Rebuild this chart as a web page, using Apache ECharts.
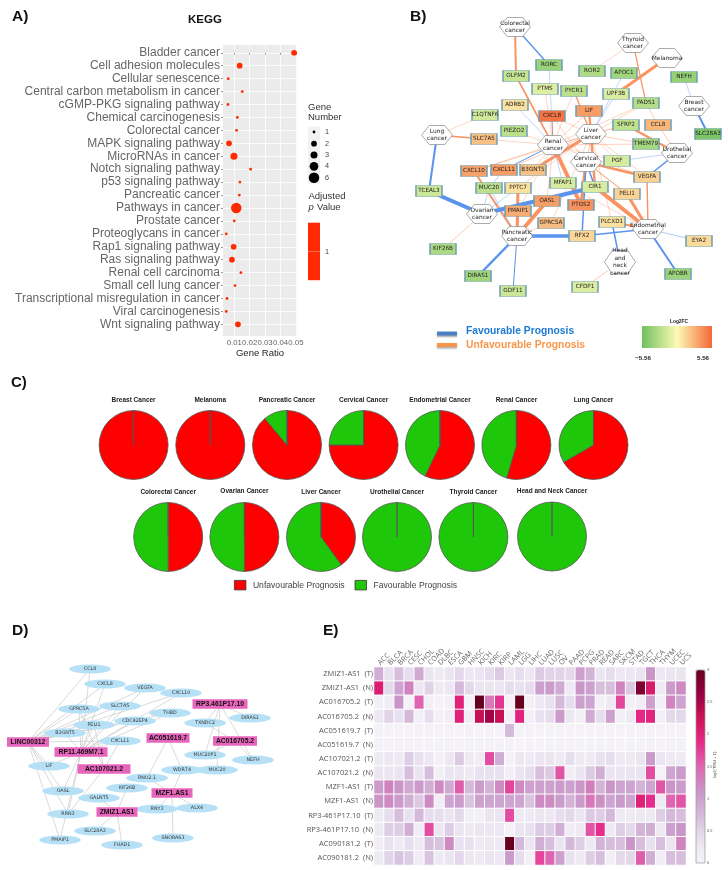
<!DOCTYPE html>
<html><head><meta charset="utf-8">
<style>html,body{margin:0;padding:0;background:#fff}#c{width:728px;height:870px}</style>
<script src="https://cdn.jsdelivr.net/npm/echarts@6/dist/echarts.min.js"></script>
</head><body><div id="c"></div>
<script>
// ---------- Panel A data ----------
const keggTerms=["Bladder cancer","Cell adhesion molecules","Cellular senescence","Central carbon metabolism in cancer","cGMP-PKG signaling pathway","Chemical carcinogenesis","Colorectal cancer","MAPK signaling pathway","MicroRNAs in cancer","Notch signaling pathway","p53 signaling pathway","Pancreatic cancer","Pathways in cancer","Prostate cancer","Proteoglycans in cancer","Rap1 signaling pathway","Ras signaling pathway","Renal cell carcinoma","Small cell lung cancer","Transcriptional misregulation in cancer","Viral carcinogenesis","Wnt signaling pathway"];
const keggRatio=[0.0488,0.0135,0.0061,0.0152,0.0059,0.012,0.0115,0.0066,0.0098,0.0206,0.0137,0.0133,0.0113,0.01,0.0048,0.0096,0.0085,0.0143,0.0105,0.0053,0.0048,0.0124];
const keggGenes=[2,2,1,1,1,1,1,2,3,1,1,1,6,1,1,2,2,1,1,1,1,2];
const ratioTicks=[0.01,0.02,0.03,0.04,0.05];
const geneLegend=[1,2,3,4,6];
// ---------- Panel B data ----------
const cancerNodes=["Colorectal cancer","Thyroid cancer","Melanoma","Breast cancer","Lung cancer","Renal cancer","Liver cancer","Cervical cancer","Urothelial cancer","Ovarian cancer","Pancreatic cancer","Endometrial cancer","Head and neck cancer"];
const geneNames=["RORC","OLFM2","ROR2","APOC1","NEFH","PTMS","PYCR1","UPF3B","FADS1","ADRB2","CXCL8","LIF","C1QTNF6","PIEZO2","SFRP2","CCL8","SLC7A5","TMEM79","SLC28A3","PGF","CXCL10","CXCL11","B3GNT5","VEGFA","MUC20","PPTC7","MFAP1","CIR1","TCEAL3","PELI1","OASL","PTGS2","PMAIP1","GPRC5A","PLCXD1","RFX2","KIF26B","DIRAS1","GDF11","CFDP1","EYA2","APOBR"];
const geneLog2FC=[-3.9,-2.2,-3,-3.6,-4,-1.2,-2.6,-1.4,-2.8,1,5.2,3.6,-1.8,-2.6,-2.4,2.6,2.2,-3.4,-5,-1.5,3.4,3.6,2.2,1.6,-2.6,1,-1.5,-1.4,-1.9,1.5,3.5,4,3,2.4,1,1.4,-3.2,-3.6,-2,-1.3,1.2,-3.8];
const fav=[["Colorectal cancer","RORC",1.4],["RORC","Renal cancer",.7],["APOC1","Liver cancer",.7],["UPF3B","Liver cancer",.7],["Breast cancer","NEFH",.7],["Breast cancer","SLC28A3",2],["Lung cancer","TCEAL3",2],["TCEAL3","Ovarian cancer",4],["Ovarian cancer","CIR1",4],["Ovarian cancer","MUC20",.7],["Pancreatic cancer","RFX2",3.5],["Pancreatic cancer","DIRAS1",2.5],["Pancreatic cancer","GDF11",1],["RFX2","Endometrial cancer",1.5],["RFX2","Cervical cancer",1.5],["Endometrial cancer","EYA2",.9],["Endometrial cancer","APOBR",2],["Head and neck cancer","PLCXD1",1.5],["Urothelial cancer","VEGFA",1.6],["Urothelial cancer","PGF",.7],["Renal cancer","ADRB2",.7],["Renal cancer","CXCL11",1],["Renal cancer","MFAP1",.7],["CXCL11","MUC20",.8],["PPTC7","Ovarian cancer",.7],["MUC20","Pancreatic cancer",.7]];
const unfav=[["Colorectal cancer","OLFM2",2],["OLFM2","Renal cancer",1.6],["Thyroid cancer","ROR2",.7],["Thyroid cancer","FADS1",1.2],["FADS1","CCL8",.9],["CCL8","Urothelial cancer",.9],["Melanoma","UPF3B",3],["Lung cancer","C1QTNF6",.7],["Lung cancer","SLC7A5",1.4],["Ovarian cancer","KIF26B",.9],["Pancreatic cancer","PMAIP1",2],["Pancreatic cancer","OASL",4],["Pancreatic cancer","CXCL10",2],["Pancreatic cancer","PPTC7",3],["Pancreatic cancer","GPRC5A",.8],["Endometrial cancer","PELI1",3],["Endometrial cancer","CIR1",4],["Endometrial cancer","VEGFA",1.4],["Endometrial cancer","PLCXD1",2],["Endometrial cancer","MFAP1",.7],["Head and neck cancer","CFDP1",.9],["Cervical cancer","PTGS2",3],["Cervical cancer","VEGFA",2.6],["Cervical cancer","PELI1",1],["Urothelial cancer","SFRP2",2],["Renal cancer","PIEZO2",.7],["Renal cancer","SLC7A5",.7],["Renal cancer","CXCL8",1],["Renal cancer","LIF",.8],["Renal cancer","PYCR1",.7],["Renal cancer","PTMS",.7],["Renal cancer","CXCL10",.8],["Renal cancer","B3GNT5",.7],["Renal cancer","PTGS2",4],["Renal cancer","OASL",.8],["Renal cancer","PMAIP1",.7],["Renal cancer","TMEM79",.8],["Renal cancer","SFRP2",.7],["Renal cancer","PGF",.7],["Renal cancer","FADS1",.7],["Liver cancer","LIF",2.4],["Liver cancer","CXCL8",.7],["Liver cancer","PYCR1",1.3],["Liver cancer","SFRP2",.7],["Liver cancer","TMEM79",.8],["Liver cancer","FADS1",.7],["Liver cancer","CIR1",2.5],["Liver cancer","PTGS2",.9],["Liver cancer","PGF",.7],["Liver cancer","B3GNT5",3],["Liver cancer","CXCL10",.7],["Liver cancer","PLCXD1",.7],["Liver cancer","GPRC5A",.7],["Liver cancer","CXCL11",.8],["Liver cancer","PPTC7",.7],["Liver cancer","VEGFA",.7],["Cervical cancer","CXCL8",.7],["Renal cancer","VEGFA",.7]];
// ---------- Panel C data ----------
const pieNames=["Breast Cancer","Melanoma","Pancreatic Cancer","Cervical Cancer","Endometrial Cancer","Renal Cancer","Lung Cancer","Colorectal Cancer","Ovarian Cancer","Liver Cancer","Urothelial Cancer","Thyroid Cancer","Head and Neck Cancer"];
const pieUnfavourable=[1,1,8,3,4,6,2,1,1,2,0,0,0];
const pieFavourable=[0,0,1,1,3,5,1,1,1,3,1,1,1];
// ---------- Panel D data ----------
const lncNodes=["LINC00312","RP11.469M7.1","AC107021.2","ZMIZ1.AS1","MZF1.AS1","AC051619.7","AC016705.2","RP3.461P17.10"];
const mrnaNodes=["CCL8","CXCL8","VEGFA","CXCL10","GPRC5A","SLC7A5","THBD","CDC42EP4","TXNDC2","DIRAS1","PELI1","B3GNT5","CXCL11","MUC20P1","NEFH","LIF","WDR74","MUC20","RNU2.1","KIF26B","OASL","GALNT5","RNY3","ALX4","RRN3","SLC28A3","SNORA63","PMAIP1","FHAD1"];
const lncTargets={
 "LINC00312":["CCL8","CXCL8","VEGFA","CXCL10","GPRC5A","SLC7A5","THBD","CDC42EP4","PELI1","B3GNT5","CXCL11","LIF","OASL","RRN3","PMAIP1"],
 "RP11.469M7.1":["CCL8","CXCL8","VEGFA","CXCL10","GPRC5A","SLC7A5","THBD","CDC42EP4","PELI1","B3GNT5","CXCL11","LIF","OASL","RRN3","PMAIP1"],
 "AC107021.2":["GPRC5A","PELI1","CXCL11","RRN3"],
 "ZMIZ1.AS1":["KIF26B","GALNT5","SLC28A3","FHAD1"],
 "MZF1.AS1":["WDR74","RNU2.1","RNY3","ALX4","SNORA63"],
 "AC051619.7":["WDR74","RNU2.1"],
 "AC016705.2":["TXNDC2","MUC20P1","NEFH"],
 "RP3.461P17.10":["TXNDC2","DIRAS1","MUC20P1","MUC20","NEFH"]};
// ---------- Panel E data ----------
const tcgaCodes=["ACC","BLCA","BRCA","CESC","CHOL","COAD","DLBC","ESCA","GBM","HNSC","KICH","KIRC","KIRP","LAML","LGG","LIHC","LUAD","LUSC","OV","PAAD","PCPG","PRAD","READ","SARC","SKCM","STAD","TGCT","THCA","THYM","UCEC","UCS"];
const heatLabels=["ZMIZ1-AS1  (T)","ZMIZ1-AS1  (N)","AC016705.2  (T)","AC016705.2  (N)","AC051619.7  (T)","AC051619.7  (N)","AC107021.2  (T)","AC107021.2  (N)","MZF1-AS1  (T)","MZF1-AS1  (N)","RP3-461P17.10  (T)","RP3-461P17.10  (N)","AC090181.2  (T)","AC090181.2  (N)"];
const zmiz1T=[.85,.35,.7,.4,.9,.3,.2,.3,.45,.25,.3,.4,.6,.25,.4,.25,.6,.5,.5,.45,1,.8,.3,.4,.25,.25,.3,1.1,.25,.3,.3];
const zmiz1N=[2.05,.45,.95,1.25,.25,.5,.2,.25,.75,.45,.3,.3,.3,.4,.35,.4,1,1.05,.9,.2,1.1,1,.7,.7,1.25,.6,2.8,2.1,.2,1.05,1.2];
const ac016T=[.1,.15,1.1,.05,1.5,.1,.05,.1,2,.05,3,1.35,1.8,.05,3,.1,.25,.35,.75,.4,1,.95,.1,.2,1.7,.1,.15,1,.1,1.25,.95];
const ac016N=[.25,.5,.35,.75,.1,.4,.1,.15,2,.15,2.3,2.55,2.3,.1,1.95,.1,.35,.4,1.05,.25,.1,.9,.4,1,.1,.2,1.9,1.95,.1,.45,.45];
const ac051T=[.06,.06,.06,.06,.06,.06,.06,.06,.06,.06,.06,.06,.06,.75,.06,.06,.06,.06,.06,.06,.06,.06,.06,.06,.06,.06,.06,.06,.06,.06,.06];
const ac051N=[.05,.05,.05,.05,.05,.05,.05,.05,.05,.05,.05,.05,.05,.05,.03,.05,.05,.05,.05,.05,.05,.05,.05,.05,.05,.05,.05,.05,.05,.05,.05];
const ac107T=[.2,.25,.2,.55,.35,.25,.1,.25,.6,.2,.15,1.65,.85,.05,.25,.2,.3,.3,.2,.4,.2,.2,.35,.4,.2,.2,.3,1.05,.3,.2,.2];
const ac107N=[.3,.3,.3,.7,.3,.7,.1,.3,.3,.2,.35,.35,.35,.1,.3,.4,.7,.6,1.6,.15,.3,.6,.85,.3,.3,.3,.3,1.65,.05,.95,1.05];
const mzf1T=[1.05,1.25,1.1,.9,1.05,.85,1.2,.9,1.55,.75,1.05,.8,1.2,1.7,1.2,1,1,1,1.05,1,1.1,1.3,.8,1.1,.95,.95,.8,.95,1.6,1.1,1.05];
const mzf1N=[1.1,1.2,1.05,.85,.6,1.2,.15,.95,1.05,.65,1,.95,.95,.95,.95,.65,1.2,1.2,1.05,.8,1.05,1.35,1.15,.95,1.05,.95,2,1.85,.2,1.5,1.6];
const rp3T=[.2,.4,.7,.35,.75,.4,.4,.3,.45,.1,.1,.3,.3,1.65,.2,.2,.3,.25,.4,.45,.3,.6,.55,.75,.2,.2,.2,.2,.55,.75,.7];
const rp3N=[.2,.55,.55,.85,.15,1.65,.25,.55,.3,.2,.3,.25,.25,.05,.3,.35,.6,.55,.85,.15,.2,1.6,1.85,.2,.55,.45,.8,.85,.2,1,1.1];
const ac090T=[.15,.35,.2,.4,.2,.7,.65,1.2,.35,.35,.2,.25,.2,3,.75,.3,.85,.7,.3,.75,.55,.2,.8,.7,.7,1.1,.7,.35,.7,.3,1.25];
const ac090N=[.2,.5,.65,.55,.15,.65,.2,.3,.45,.25,.2,.3,.25,1.05,.4,.1,1.7,1.5,1,.35,.2,.55,.7,.1,.45,.45,1.55,.85,.15,.7,.7];
const heatRows=[zmiz1T,zmiz1N,ac016T,ac016N,ac051T,ac051N,ac107T,ac107N,mzf1T,mzf1N,rp3T,rp3N,ac090T,ac090N];
const colorbarTicks=[0,0.5,1,1.5,2,2.5,3];

// ---------- Layout (page pixels, read through the overlay axes) ----------
const layoutB={"Colorectal cancer":[515,27],"Thyroid cancer":[633,43],"Melanoma":[667,58],"Breast cancer":[694,106],"Lung cancer":[437,135],"Renal cancer":[553,145],"Liver cancer":[591,134],"Cervical cancer":[586,162],"Urothelial cancer":[677,153],"Ovarian cancer":[482,214],"Pancreatic cancer":[517,236],"Endometrial cancer":[648,229],"Head and neck cancer":[620,262],
RORC:[549,65],OLFM2:[516,76],ROR2:[592,71],APOC1:[624,73],NEFH:[684,77],PTMS:[545,89],PYCR1:[574,91],UPF3B:[616,94],FADS1:[646,103],ADRB2:[515,105],CXCL8:[552,116],LIF:[589,111],C1QTNF6:[485,115],PIEZO2:[514,131],SFRP2:[626,125],CCL8:[658,125],SLC7A5:[484,139],TMEM79:[646,144],SLC28A3:[708,134],PGF:[617,161],CXCL10:[474,171],CXCL11:[504,170],B3GNT5:[533,170],VEGFA:[647,177],MUC20:[489,188],PPTC7:[518,188],MFAP1:[563,183],CIR1:[595,187],TCEAL3:[429,191],PELI1:[627,194],OASL:[547,201],PTGS2:[581,205],PMAIP1:[518,211],GPRC5A:[551,223],PLCXD1:[612,222],RFX2:[582,236],KIF26B:[443,249],DIRAS1:[478,276],GDF11:[513,291],CFDP1:[585,287],EYA2:[699,241],APOBR:[678,274]};
const layoutD={CCL8:[90,669],CXCL8:[105,684],VEGFA:[145,688],CXCL10:[181,693],GPRC5A:[79,709],SLC7A5:[120,706],THBD:[170,713],CDC42EP4:[135,721],TXNDC2:[205,723],DIRAS1:[250,718],PELI1:[94,725],B3GNT5:[65,733],CXCL11:[120,741],MUC20P1:[205,755],NEFH:[253,760],LIF:[49,766],WDR74:[182,770],MUC20:[217,770],"RNU2.1":[147,778],KIF26B:[127,788],OASL:[63,791],GALNT5:[99,798],RNY3:[157,809],ALX4:[197,808],RRN3:[68,814],SLC28A3:[95,831],SNORA63:[173,838],PMAIP1:[60,840],FHAD1:[122,845],
LINC00312:[28,742],"RP11.469M7.1":[81,752],"AC107021.2":[104,769],"ZMIZ1.AS1":[117,812],"MZF1.AS1":[172,793],"AC051619.7":[168,738],"AC016705.2":[235,741],"RP3.461P17.10":[220,704]};
const lncWidths={LINC00312:42,"RP11.469M7.1":53,"AC107021.2":53,"ZMIZ1.AS1":41,"MZF1.AS1":41,"AC051619.7":43,"AC016705.2":44,"RP3.461P17.10":55};
const pieCentres=[[133.6,445],[210.3,445],[287,445],[363.6,445],[440,445],[516.4,445],[593.5,445],[168.2,537],[244.4,537],[321,537],[397,537],[473.4,537],[552,536.5]];
const pieTitleY=[400.5,400.5,400.5,400.5,400.5,400.5,400.5,492.5,491.5,492.5,492.5,492.5,491.5];
const legendDotPos=[132,143.7,155,166.3,177.7];
const dotSize={1:2.8,2:5.7,3:7,4:8.7,6:10.5};

const ARIAL='"Liberation Sans",Arial,sans-serif', DJ='"DejaVu Sans",sans-serif', OS='"Open Sans",sans-serif';
const HEX='path://M25,0 L75,0 L100,50 L75,100 L25,100 L0,50 Z';
const ELL='path://M0,50 A100,50 0 1,1 200,50 A100,50 0 1,1 0,50 Z';
const ORANGE='#fa9360', BLUE='#5a93ee';

function hex(c){return [1,3,5].map(i=>parseInt(c.substr(i,2),16));}
function mix(a,b,t){const A=hex(a),B=hex(b);return 'rgb('+A.map((v,i)=>Math.round(v+(B[i]-v)*t)).join(',')+')';}
function fcColor(v){const t=Math.min(1,Math.abs(v)/5.56);return v<0?mix('#fdfbb5','#6fc05e',t):mix('#fdfbb5','#f4683a',t);}

const nodesB=[
 ...cancerNodes.map(n=>({name:n,value:layoutB[n],symbol:HEX,symbolSize:[31,n==="Head and neck cancer"?23:19],itemStyle:{color:'#fff',borderColor:'#8a8a8a',borderWidth:.7},
   label:{show:true,position:'inside',formatter:n.replace(/ /g,'\n'),fontFamily:DJ,fontSize:5.9,lineHeight:7.8,color:'#222'},z:3})),
 ...geneNames.map((n,i)=>({name:n,value:layoutB[n],symbol:'rect',symbolSize:[26,11],itemStyle:{color:fcColor(geneLog2FC[i]),borderColor:'#6f9fb4',borderWidth:1},
   label:{show:true,position:'inside',fontFamily:DJ,fontSize:5.7,color:'#222'}}))];
function edge(list,color){return list.map(([s,t,w])=>({source:s,target:t,lineStyle:{color,width:w,opacity:w<1?.55:1}}));}
const linksB=[...edge(unfav,ORANGE),...edge(fav,BLUE),...edge([["Cervical cancer","CIR1",1.5]],BLUE)];

const nodesD=[
 ...mrnaNodes.map(n=>({name:n,value:layoutD[n],symbol:ELL,symbolSize:[41.5,9],itemStyle:{color:'#b5e0f6'},
   label:{show:true,position:'inside',fontFamily:DJ,fontSize:4.8,color:'#333'}})),
 ...lncNodes.map(n=>({name:n,value:layoutD[n],symbol:'rect',symbolSize:[lncWidths[n],9.5],itemStyle:{color:'#e765bd'},
   label:{show:true,position:'inside',fontFamily:ARIAL,fontWeight:'bold',fontSize:6.8,color:'#111'}}))];
const linksD=[];
Object.keys(lncTargets).forEach(k=>lncTargets[k].forEach(t=>linksD.push({source:k,target:t,lineStyle:{color:'#cacaca',width:.7,opacity:1}})));

function txt(text,x,y,size,opt){opt=opt||{};return {type:'text',x,y,rotation:opt.rotation||0,z:opt.z||5,silent:true,
  style:{text,fontSize:size,fontFamily:opt.font||ARIAL,fontWeight:opt.weight||'normal',fontStyle:opt.italic?'italic':'normal',fill:opt.fill||'#222',align:opt.align||'left',verticalAlign:'middle'}};}
const legendShadow={shadowColor:'rgba(0,0,0,.35)',shadowBlur:2,shadowOffsetY:1.5};

const graphic=[
 txt('A)',12,17,15.5,{weight:'bold',fill:'#111'}),txt('B)',410,17,15.5,{weight:'bold',fill:'#111'}),
 txt('C)',11,383,15,{weight:'bold',fill:'#111'}),txt('D)',12,631,15.5,{weight:'bold',fill:'#111'}),txt('E)',323,631,15.5,{weight:'bold',fill:'#111'}),
 txt('KEGG',205,20,11.5,{weight:'bold',align:'center',fill:'#111'}),
 txt('Gene Ratio',260,353,9.5,{align:'center'}),
 txt('Gene',308,107,9.5,{fill:'#333'}),txt('Number',308,117.5,9.5,{fill:'#333'}),
 txt('Adjusted',308.5,196,9.5,{fill:'#333'}),txt('p',308.5,207,9.5,{italic:true,fill:'#333'}),txt('Value',317,207,9.5,{fill:'#333'}),
 {type:'rect',shape:{x:308,y:126.7,width:12,height:57},style:{fill:'#f2f2f2'},z:0,silent:true},
 ...geneLegend.map((g,i)=>txt(String(g),325,legendDotPos[i],7.3,{fill:'#444'})),
 {type:'rect',shape:{x:308,y:222.7,width:12,height:57.5},style:{fill:'#ff2a00'},z:1,silent:true},
 {type:'line',shape:{x1:308,y1:251.5,x2:320,y2:251.5},style:{stroke:'rgba(255,255,255,.5)',lineWidth:.6},z:1,silent:true},
 txt('1',325,252,7.3,{fill:'#444'}),
 // panel B legend
 {type:'line',shape:{x1:437,y1:333.5,x2:457,y2:333.5},style:Object.assign({stroke:'#4a7fc4',lineWidth:4},legendShadow),silent:true},
 {type:'line',shape:{x1:437,y1:345,x2:457,y2:345},style:Object.assign({stroke:'#f79448',lineWidth:4},legendShadow),silent:true},
 txt('Favourable Prognosis',466,331.5,10.3,{weight:'bold',fill:'#1c7ad2'}),
 txt('Unfavourable Prognosis',466,345.5,10.3,{weight:'bold',fill:'#f8954b'}),
 {type:'rect',shape:{x:642,y:326,width:70,height:22},silent:true,style:{fill:{type:'linear',x:0,y:0,x2:1,y2:0,colorStops:[{offset:0,color:'#6fc05e'},{offset:.5,color:'#fdfbb5'},{offset:1,color:'#f4683a'}]}}},
 txt('Log2FC',679,322,4.8,{weight:'bold',align:'center'}),
 txt('\u22125.56',643,358,6.2,{weight:'bold',align:'center'}),txt('5.56',703,358,6.2,{weight:'bold',align:'center'}),
 // panel C titles
 ...pieNames.map((n,i)=>txt(n,pieCentres[i][0],pieTitleY[i],6.5,{weight:'bold',align:'center'})),
 // panel E colour bar
 {type:'rect',shape:{x:696,y:670,width:9,height:193},style:{fill:'none',stroke:'#999',lineWidth:.7},z:6,silent:true},
 ...colorbarTicks.map(t=>txt(String(t),707,863-t/3*193,3.8,{fill:'#555'})),
 txt('log2(TPM + 1)',715,765,4.2,{rotation:Math.PI/2,align:'center',fill:'#555'})
];

const pieSeries=pieNames.map((n,i)=>({type:'pie',name:n,center:pieCentres[i],radius:34.5,startAngle:90,clockwise:true,silent:true,
  label:{show:false},labelLine:{show:false},stillShowZeroSum:true,
  itemStyle:{borderColor:'#555',borderWidth:.8},
  data:[{name:'Unfavourable Prognosis',value:pieUnfavourable[i],itemStyle:{color:'#ff0000'}},
        {name:'Favourable Prognosis',value:pieFavourable[i],itemStyle:{color:'#1ec70a'}},
        {name:'',value:0,itemStyle:{color:'#555'}}]}));

const option={
 animation:false,backgroundColor:'#fff',
 graphic:{elements:graphic},
 legend:{data:['Unfavourable Prognosis','Favourable Prognosis'],left:234,top:580,padding:0,icon:'rect',itemWidth:11.5,itemHeight:9.5,itemGap:10,itemStyle:{borderColor:'#333',borderWidth:.8},
   selectedMode:false,textStyle:{fontFamily:ARIAL,fontSize:8.6,color:'#444',padding:[0,0,0,2]}},
 grid:[
  {left:0,top:0,width:728,height:870,show:false},
  {left:223,top:45,width:74,height:291,show:true,borderWidth:0,backgroundColor:'#ebebeb'},
  {left:374,top:667,width:312,height:198}
 ],
 xAxis:[
  {gridIndex:0,type:'value',min:0,max:728,show:false},
  {gridIndex:1,type:'value',min:0.0027,max:0.0507,
   axisLine:{show:false},
   axisTick:{show:true,length:2,lineStyle:{color:'#555',width:.6},customValues:ratioTicks},
   axisLabel:{customValues:ratioTicks,formatter:v=>v.toFixed(2),fontFamily:ARIAL,fontSize:7.8,color:'#666',margin:3,hideOverlap:false},
   splitLine:{show:true,lineStyle:{color:'#fff',width:.8}}},
  {gridIndex:2,type:'category',position:'top',data:tcgaCodes,axisLine:{show:false},axisTick:{show:false},
   axisLabel:{rotate:-45,fontFamily:OS,fontSize:7.2,color:'#666',margin:3,interval:0,hideOverlap:false},splitLine:{show:false}}
 ],
 yAxis:[
  {gridIndex:0,type:'value',min:0,max:870,inverse:true,show:false},
  {gridIndex:1,type:'value',min:-0.6,max:21.9,inverse:true,
   axisLine:{show:false},
   axisTick:{show:true,length:2,lineStyle:{color:'#555',width:.6},customValues:keggTerms.map((_,i)=>i)},
   axisLabel:{customValues:keggTerms.map((_,i)=>i),formatter:v=>keggTerms[v]||'',fontFamily:ARIAL,fontSize:12,color:'#666',margin:3,hideOverlap:false},
   splitLine:{show:true,lineStyle:{color:'#fff',width:.8}}},
  {gridIndex:2,type:'category',inverse:true,data:heatLabels,axisLine:{show:false},axisTick:{show:false},
   axisLabel:{fontFamily:OS,fontSize:7.5,color:'#555',margin:1,interval:0,hideOverlap:false},splitLine:{show:false}}
 ],
 visualMap:[{type:'continuous',seriesIndex:0,min:0,max:3,calculable:false,show:true,orient:'vertical',left:696,top:670,padding:0,itemWidth:9,itemHeight:193,
   textStyle:{fontSize:1,color:'#fff'},
   inRange:{color:['#f7f4f9','#e7e1ef','#d4b9da','#c994c7','#df65b0','#e7298a','#ce1256','#980043','#67001f']}}],
 series:[
  {type:'heatmap',xAxisIndex:2,yAxisIndex:2,
   data:heatRows.flatMap((row,r)=>row.map((v,c)=>[c,r,v])),
   itemStyle:{borderColor:'#fff',borderWidth:1},silent:true},
  {type:'scatter',xAxisIndex:1,yAxisIndex:1,silent:true,
   data:keggRatio.map((v,i)=>[v,i,keggGenes[i]]),
   symbolSize:d=>dotSize[d[2]],itemStyle:{color:'#ff2a00',opacity:1}},
  {type:'scatter',xAxisIndex:0,yAxisIndex:0,silent:true,
   data:geneLegend.map((g,i)=>[314,legendDotPos[i],g]),
   symbolSize:d=>dotSize[d[2]],itemStyle:{color:'#000',opacity:1}},
  {type:'graph',layout:'none',coordinateSystem:'cartesian2d',xAxisIndex:0,yAxisIndex:0,silent:true,
   data:nodesB,links:linksB,z:3},
  {type:'graph',layout:'none',coordinateSystem:'cartesian2d',xAxisIndex:0,yAxisIndex:0,silent:true,
   data:nodesD,links:linksD,z:3},
  ...pieSeries
 ]
};
const chart=echarts.init(document.getElementById('c'),null,{renderer:'canvas',width:728,height:870});
chart.setOption(option);
</script></body></html>
